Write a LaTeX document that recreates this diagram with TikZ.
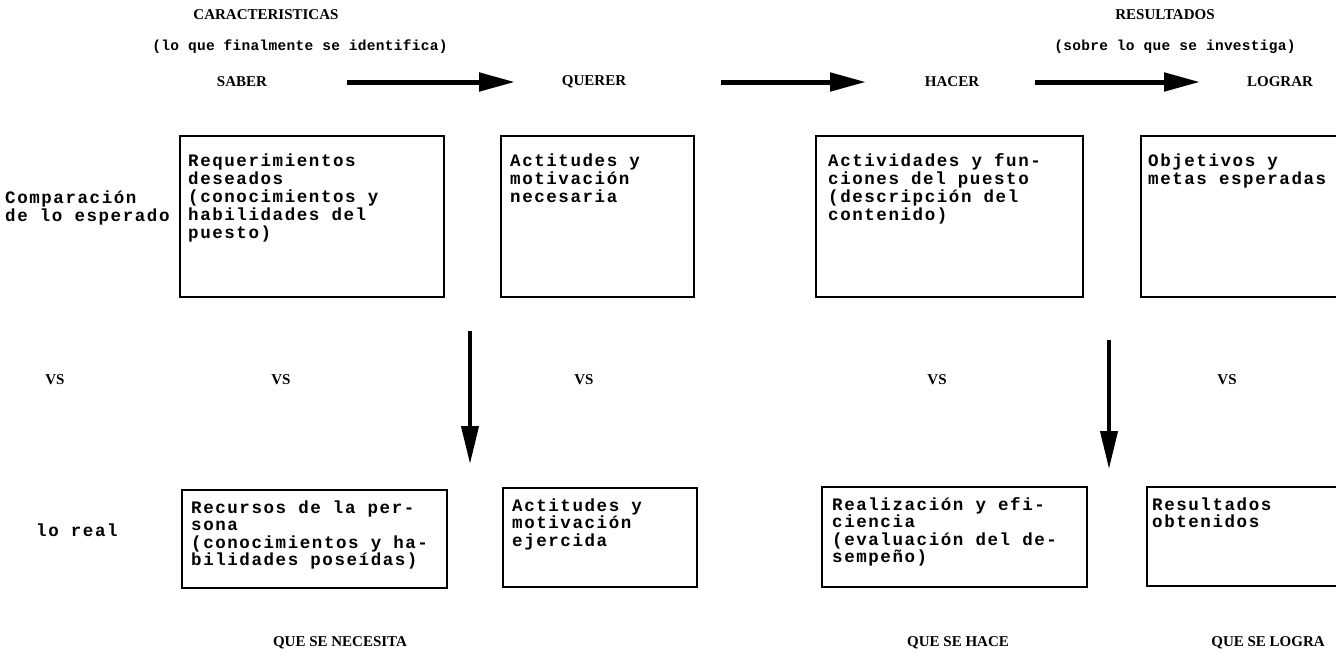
\documentclass[tikz,border=0pt]{standalone}
\usepackage{fontspec}
\setmainfont{Liberation Serif}
\newfontfamily\tw[LetterSpace=9]{Liberation Mono Bold}
\newfontfamily\twh[LetterSpace=2]{Liberation Mono Bold}
\usetikzlibrary{arrows.meta}
\newcommand\fstrut{\rule{0pt}{14pt}}
\begin{document}
\begin{tikzpicture}[x=1pt,y=-1pt,
  box/.style={draw=black, line width=2.3pt, anchor=north west, inner sep=0pt},
  btext/.style={anchor=north west, inner sep=0pt, align=left, font=\tw\fontsize{17.5}{18}\selectfont},
  bbtext/.style={anchor=north west, inner sep=0pt, align=left, font=\tw\fontsize{17.5}{17.5}\selectfont},
  ltext/.style={anchor=west, inner sep=0pt, align=left, font=\tw\fontsize{17.5}{18}\selectfont},
  capt/.style={font=\fontsize{15}{17}\selectfont\bfseries, inner sep=0pt},
  htext/.style={font=\twh\fontsize{14.5}{16}\selectfont, inner sep=0pt},
  harrow/.style={line width=5pt, -{Triangle[length=36pt,width=18pt]}},
  varrow/.style={line width=4pt, -{Triangle[length=38pt,width=17pt]}}
]
\useasboundingbox (0,0) rectangle (1336,664);
\fill[white] (0,0) rectangle (1336,664);
\begin{scope}
\clip (0,0) rectangle (1336,664);
% headers
\node[capt] (car) at (266,15) {CARACTERISTICAS};
\node[htext] (carsub) at (300,47) {(lo que finalmente se identifica)};
\node[capt] (res) at (1165,15) {RESULTADOS};
\node[htext] (ressub) at (1175,47) {(sobre lo que se investiga)};
\node[capt] (saber) at (242,82) {SABER};
\node[capt] (querer) at (594,82) {QUERER};
\node[capt] (hacer) at (952,82) {HACER};
\node[capt] (lograr) at (1280,82) {LOGRAR};
\coordinate (h1s) at (347,82); \coordinate (h1e) at (515,82);
\coordinate (h2s) at (721,82); \coordinate (h2e) at (866,82);
\coordinate (h3s) at (1035,82); \coordinate (h3e) at (1200,82);
\draw[harrow] (h1s) -- (h1e);
\draw[harrow] (h2s) -- (h2e);
\draw[harrow] (h3s) -- (h3e);
% left labels
\node[ltext] (comp) at (5,199) {Comparación};
\node[ltext] (esp) at (5,217) {de lo esperado};
\node[ltext] (real) at (36,530) {lo real};
% top boxes
\node[box, minimum width=264pt, minimum height=161pt] (t1) at (179,135) {};
\node[box, minimum width=193pt, minimum height=161pt] (t2) at (500,135) {};
\node[box, minimum width=267pt, minimum height=161pt] (t3) at (815,135) {};
\node[box, minimum width=260pt, minimum height=161pt] (t4) at (1140,135) {};
\node[btext] at ([xshift=9pt,yshift=-17.5pt]t1.north west) {\fstrut Requerimientos\\deseados\\(conocimientos y\\habilidades del\\puesto)};
\node[btext] at ([xshift=10pt,yshift=-17.5pt]t2.north west) {\fstrut Actitudes y\\motivación\\necesaria};
\node[btext] at ([xshift=13pt,yshift=-17.5pt]t3.north west) {\fstrut Actividades y fun-\\ciones del puesto\\(descripción del\\contenido)};
\node[btext] at ([xshift=8pt,yshift=-17.5pt]t4.north west) {\fstrut Objetivos y\\metas esperadas};
% VS row
\node[capt] (vs1) at (55,380) {VS};
\node[capt] (vs2) at (281,380) {VS};
\node[capt] (vs3) at (584,380) {VS};
\node[capt] (vs4) at (937,380) {VS};
\node[capt] (vs5) at (1227,380) {VS};
% vertical arrows
\coordinate (v1s) at (470,331); \coordinate (v1e) at (470,464);
\coordinate (v2s) at (1109,340); \coordinate (v2e) at (1109,469);
\draw[varrow] (v1s) -- (v1e);
\draw[varrow] (v2s) -- (v2e);
% bottom boxes
\node[box, minimum width=265pt, minimum height=98pt] (b1) at (181,489) {};
\node[box, minimum width=194pt, minimum height=99pt] (b2) at (502,487) {};
\node[box, minimum width=265pt, minimum height=100pt] (b3) at (821,486) {};
\node[box, minimum width=260pt, minimum height=99pt] (b4) at (1146,486) {};
\node[bbtext] at ([xshift=10pt,yshift=-10pt]b1.north west) {\fstrut Recursos de la per-\\sona\\(conocimientos y ha-\\bilidades poseídas)};
\node[bbtext] at ([xshift=10pt,yshift=-10pt]b2.north west) {\fstrut Actitudes y\\motivación\\ejercida};
\node[bbtext] at ([xshift=11pt,yshift=-10pt]b3.north west) {\fstrut Realización y efi-\\ciencia\\(evaluación del de-\\sempeño)};
\node[bbtext] at ([xshift=6pt,yshift=-10pt]b4.north west) {\fstrut Resultados\\obtenidos};
% bottom captions
\node[capt] (nec) at (340,643) {QUE SE NECESITA};
\node[capt] (hace) at (958,643) {QUE SE HACE};
\node[capt] (logra) at (1268,643) {QUE SE LOGRA};
\end{scope}
\end{tikzpicture}
\end{document}
